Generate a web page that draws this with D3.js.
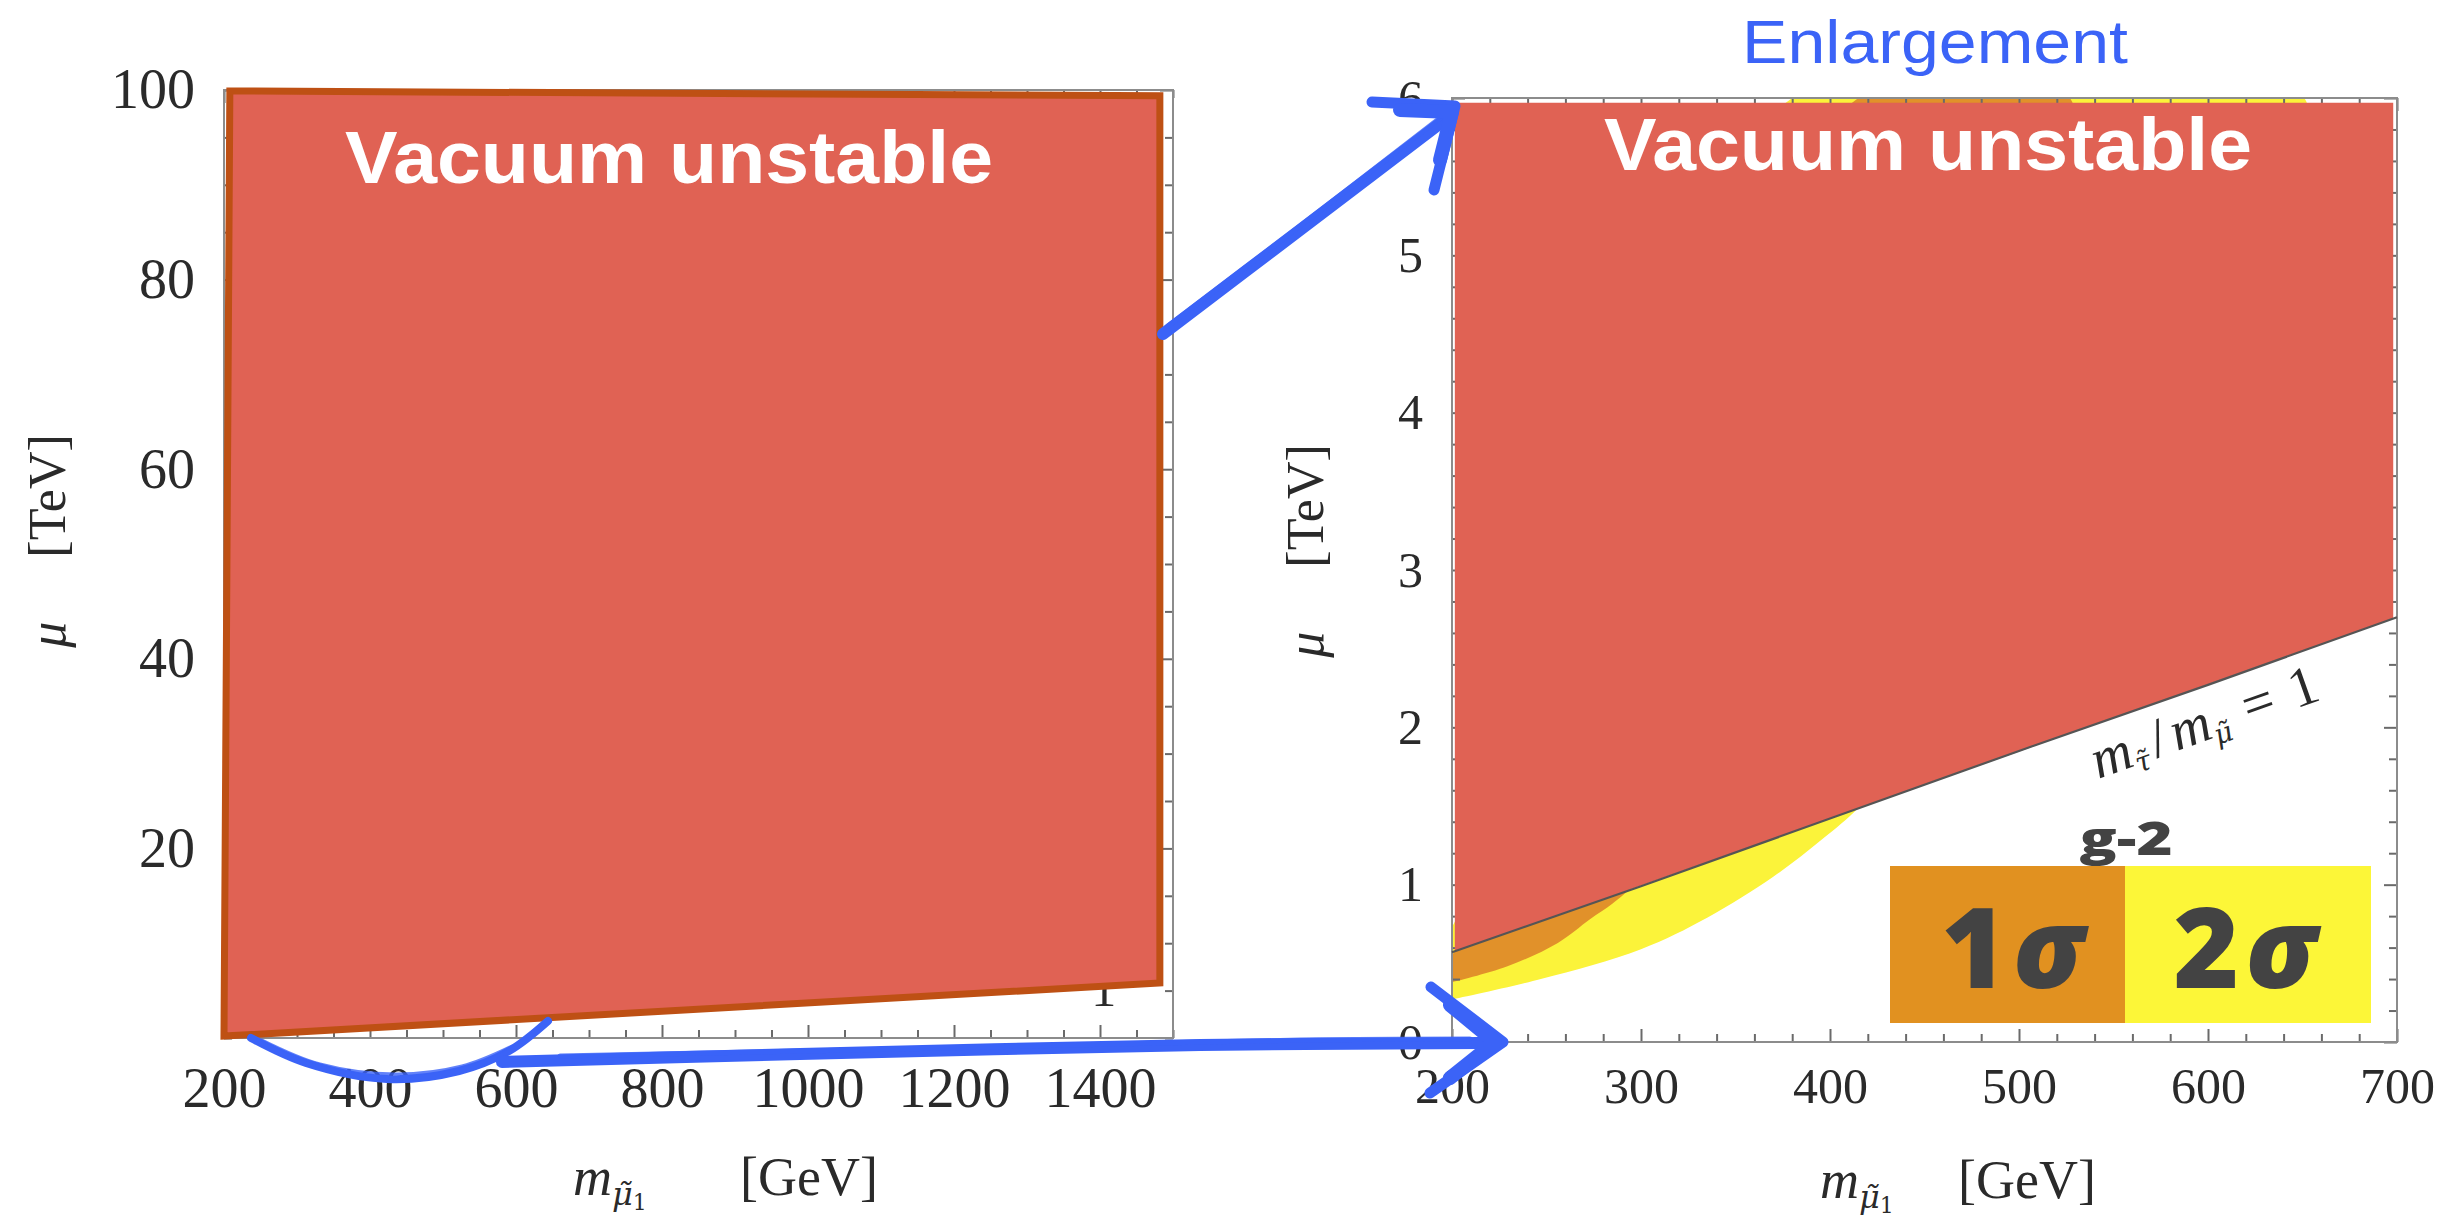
<!DOCTYPE html>
<html><head><meta charset="utf-8">
<script src="https://cdn.jsdelivr.net/npm/d3@7"></script>
<style>body{margin:0;background:#fff;} svg{display:block;background:#fff}</style>
</head><body><svg id="chart" width="2460" height="1221"></svg>
<script>
// ---------------- data ----------------
// left panel (full range)
const leftXDomain = [200, 1500];
const leftYDomain = [0, 100];
const leftXTicks = [200, 400, 600, 800, 1000, 1200, 1400];
const leftYTicks = [20, 40, 60, 80, 100];
const leftXMinorStep = 50;
const leftYMinorStep = 5;
// "Vacuum unstable" overlay of the left panel (corners, GeV / TeV)
const leftUnstableM  = [208, 1482, 1482, 200];
const leftUnstableMu = [99.9, 99.4, 5.8, 0.2];

// right panel (enlargement)
const rightXDomain = [200, 700];
const rightYDomain = [0, 6];
const rightXTicks = [200, 300, 400, 500, 600, 700];
const rightYTicks = [0, 1, 2, 3, 4, 5, 6];
const rightXMinorStep = 20;
const rightYMinorStep = 0.2;
// m_stau / m_smu = 1 line
const ratioLineM  = [200, 300, 400, 500, 600, 700];
const ratioLineMu = [0.57, 0.99, 1.42, 1.85, 2.27, 2.70];
// "Vacuum unstable" overlay of the right panel
const rightUnstableM  = [201.5, 698, 698, 201.5];
const rightUnstableMu = [5.97, 5.97, 2.69, 0.575];
// g-2 regions (lower-right edge upward, then upper-left edge downward)
const sigma2M  = [200, 247, 300, 335, 370, 396, 416, 450, 500, 560, 610, 651, 380, 320, 260, 220, 200];
const sigma2Mu = [0.27, 0.40, 0.59, 0.79, 1.05, 1.29, 1.50, 2.0, 2.8, 3.9, 4.9, 6.0, 6.0, 4.2, 2.3, 1.2, 0.73];
const sigma1M  = [200, 229, 256, 273, 285, 295, 320, 370, 430, 480, 527, 415, 350, 280, 230, 200];
const sigma1Mu = [0.38, 0.48, 0.63, 0.78, 0.88, 0.98, 1.25, 2.0, 3.2, 4.5, 6.0, 6.0, 4.0, 2.2, 1.1, 0.55];

const legendLabels = ["1σ", "2σ"];

// ---------------- styles ----------------
const C = {
  red: "#E06254", redEdge: "#BE5014", orange: "#E1912A", yellow: "#FBF33A",
  legendOrange: "#E19120", legendYellow: "#FCF638", blue: "#3B63F7",
  frame: "#8c8c8c", tick: "#6a6a6a", text: "#2a2a2a", dark: "#434343"
};
const serif = "'Liberation Serif','DejaVu Serif',serif";
const subSerif = "'DejaVu Serif','Liberation Serif',serif";
const sans = "'Liberation Sans',Arial,sans-serif";
const heavy = "'Open Sans','DejaVu Sans',sans-serif";

const svg = d3.select("#chart");
const zip = (a, b) => a.map((v, i) => [v, b[i]]);

// ---------------- scales ----------------
const xL = d3.scaleLinear(leftXDomain, [224, 1173]);
const yL = d3.scaleLinear(leftYDomain, [1038, 90]);
const xR = d3.scaleLinear(rightXDomain, [1452, 2397]);
const yR = d3.scaleLinear(rightYDomain, [1042, 98]);

function minorTicks(domain, step, majors) {
  const out = [];
  for (let v = domain[0]; v <= domain[1] + 1e-9; v += step) {
    const r = Math.round(v * 1000) / 1000;
    if (!majors.some(m => Math.abs(m - r) < 1e-6)) out.push(r);
  }
  return out;
}

function frame(g, x, y, xTicks, yTicks, xStep, yStep, fs, xLabOff, yLabPad) {
  const [x0, x1] = x.range(), [y0, y1] = y.range();
  const xMin = minorTicks(x.domain(), xStep, xTicks), yMin = minorTicks(y.domain(), yStep, yTicks);
  const styleAxis = sel => {
    sel.select(".domain").remove();
    sel.selectAll(".tick line").attr("stroke", C.tick).attr("stroke-width", 2);
  };
  const b = g.append("g").attr("transform", `translate(0,${y0})`)
    .call(d3.axisBottom(x).tickValues(xTicks).tickSize(-13).tickPadding(0).tickFormat(d3.format("d")));
  styleAxis(b);
  b.selectAll("text").attr("dy", null).attr("y", xLabOff)
    .attr("font-family", serif).attr("font-size", fs).attr("fill", C.text);
  g.append("g").attr("transform", `translate(0,${y0})`)
    .call(d3.axisBottom(x).tickValues(xMin).tickSize(-8).tickFormat("")).call(styleAxis);
  g.append("g").attr("transform", `translate(0,${y1})`)
    .call(d3.axisTop(x).tickValues(xTicks).tickSize(-13).tickFormat("")).call(styleAxis);
  g.append("g").attr("transform", `translate(0,${y1})`)
    .call(d3.axisTop(x).tickValues(xMin).tickSize(-8).tickFormat("")).call(styleAxis);
  const l = g.append("g").attr("transform", `translate(${x0},0)`)
    .call(d3.axisLeft(y).tickValues(yTicks).tickSize(-13).tickPadding(yLabPad).tickFormat(d3.format("d")));
  styleAxis(l);
  l.selectAll("text").attr("font-family", serif).attr("font-size", fs).attr("fill", C.text);
  g.append("g").attr("transform", `translate(${x0},0)`)
    .call(d3.axisLeft(y).tickValues(yMin).tickSize(-8).tickFormat("")).call(styleAxis);
  g.append("g").attr("transform", `translate(${x1},0)`)
    .call(d3.axisRight(y).tickValues(yTicks).tickSize(-13).tickFormat("")).call(styleAxis);
  g.append("g").attr("transform", `translate(${x1},0)`)
    .call(d3.axisRight(y).tickValues(yMin).tickSize(-8).tickFormat("")).call(styleAxis);
  g.append("rect").attr("x", x0).attr("y", y1).attr("width", x1 - x0).attr("height", y0 - y1)
    .attr("fill", "none").attr("stroke", C.frame).attr("stroke-width", 2);
}

// ================= RIGHT PANEL =================
const gR = svg.append("g");
svg.append("clipPath").attr("id", "clipR").append("rect")
  .attr("x", xR(200)).attr("y", yR(6)).attr("width", xR(700) - xR(200)).attr("height", yR(0) - yR(6));
const band = d3.line().x(d => xR(d[0])).y(d => yR(d[1])).curve(d3.curveCatmullRom.alpha(0.5));
const gBands = gR.append("g").attr("clip-path", "url(#clipR)");
gBands.append("path").attr("d", band(zip(sigma2M, sigma2Mu)) + "Z").attr("fill", C.yellow);
gBands.append("path").attr("d", band(zip(sigma1M, sigma1Mu)) + "Z").attr("fill", C.orange);

frame(gR, xR, yR, rightXTicks, rightYTicks, rightXMinorStep, rightYMinorStep, 50, 61, 29);

const poly = (x, y) => d3.line().x(d => x(d[0])).y(d => y(d[1]));
gR.append("path").attr("d", poly(xR, yR)(zip(rightUnstableM, rightUnstableMu)) + "Z").attr("fill", C.red);
gR.append("path").attr("d", poly(xR, yR)(zip(ratioLineM, ratioLineMu)))
  .attr("fill", "none").attr("stroke", "#555").attr("stroke-width", 2.2);

// ratio label along the line
{
  const mA = 592;
  const muA = d3.scaleLinear(ratioLineM, ratioLineMu)(mA);
  const ang = Math.atan2(yR(ratioLineMu[5]) - yR(ratioLineMu[0]), xR(ratioLineM[5]) - xR(ratioLineM[0])) * 180 / Math.PI;
  const t = gR.append("text")
    .attr("transform", `translate(${xR(mA)},${yR(muA)}) rotate(${ang})`)
    .attr("y", 52).attr("text-anchor", "middle")
    .attr("font-family", serif).attr("font-size", 56).attr("fill", C.text);
  t.append("tspan").attr("font-style", "italic").text("m");
  t.append("tspan").attr("font-family", subSerif).attr("font-style", "italic").attr("font-size", 28).attr("dy", 8).text("τ\u0303");
  t.append("tspan").attr("dy", -8).attr("dx", 6).text("/");
  t.append("tspan").attr("font-style", "italic").attr("dx", 6).text("m");
  t.append("tspan").attr("font-family", subSerif).attr("font-style", "italic").attr("font-size", 28).attr("dy", 8).text("μ\u0303");
  t.append("tspan").attr("dy", -8).attr("dx", 18).text("=");
  t.append("tspan").attr("dx", 18).text("1");
}

// ================= LEFT PANEL =================
const gL = svg.append("g");
frame(gL, xL, yL, leftXTicks, leftYTicks, leftXMinorStep, leftYMinorStep, 56, 69, 29);
gL.append("text").attr("x", xL(1405)).attr("y", 1006).attr("text-anchor", "middle")
  .attr("font-family", serif).attr("font-size", 50).attr("fill", C.text).text("1");
gL.append("path").attr("d", poly(xL, yL)(zip(leftUnstableM, leftUnstableMu)) + "Z")
  .attr("fill", C.red).attr("stroke", C.redEdge).attr("stroke-width", 7).attr("stroke-linejoin", "miter");

// ================= TEXTS =================
function vlabel(x, yc, fs) {
  const t = svg.append("text").attr("transform", `translate(${x},${yc}) rotate(-90)`)
    .attr("text-anchor", "middle").attr("font-family", serif).attr("font-size", fs).attr("fill", C.text);
  t.append("tspan").attr("font-style", "italic").text("μ");
  t.append("tspan").attr("dx", 64).text("[TeV]");
}
vlabel(65, 541, 52);
vlabel(1323, 551, 52);

function xlabel(xm, xg, yb, fs) {
  const t = svg.append("text").attr("x", xm).attr("y", yb)
    .attr("font-family", serif).attr("font-size", fs).attr("fill", C.text);
  t.append("tspan").attr("font-style", "italic").text("m");
  t.append("tspan").attr("font-family", subSerif).attr("font-style", "italic").attr("font-size", 32).attr("dy", 10).text("μ\u0303");
  t.append("tspan").attr("font-family", subSerif).attr("font-size", 22).attr("dy", 5).text("1");
  svg.append("text").attr("x", xg).attr("y", yb).attr("font-family", serif)
    .attr("font-size", fs).attr("fill", C.text).text("[GeV]");
}
xlabel(573, 740, 1195, 54);
xlabel(1820, 1958, 1198, 54);

svg.append("text").attr("x", 669).attr("y", 183).attr("text-anchor", "middle")
  .attr("font-family", sans).attr("font-weight", "bold").attr("font-size", 75)
  .attr("textLength", 648).attr("lengthAdjust", "spacingAndGlyphs").attr("fill", "#fff").text("Vacuum unstable");
svg.append("text").attr("x", 1928).attr("y", 170).attr("text-anchor", "middle")
  .attr("font-family", sans).attr("font-weight", "bold").attr("font-size", 75)
  .attr("textLength", 648).attr("lengthAdjust", "spacingAndGlyphs").attr("fill", "#fff").text("Vacuum unstable");
svg.append("text").attr("x", 1935).attr("y", 63).attr("text-anchor", "middle")
  .attr("font-family", sans).attr("font-size", 62)
  .attr("textLength", 386).attr("lengthAdjust", "spacingAndGlyphs").attr("fill", C.blue).text("Enlargement");

// ================= LEGEND =================
const lg = svg.append("g");
const boxes = [{x: 1890, w: 235, c: C.legendOrange}, {x: 2125, w: 246, c: C.legendYellow}];
boxes.forEach((b, i) => {
  lg.append("rect").attr("x", b.x).attr("y", 866).attr("width", b.w).attr("height", 157).attr("fill", b.c);
  const t = lg.append("text").attr("x", b.x + b.w / 2 + (i === 0 ? 8 : 0)).attr("y", 988)
    .attr("text-anchor", "middle").attr("font-family", heavy)
    .attr("font-weight", 800).attr("font-size", 112).attr("letter-spacing", 6).attr("fill", C.dark);
  t.append("tspan").text(legendLabels[i][0]);
  t.append("tspan").attr("font-style", "italic").text(legendLabels[i].slice(1));
});
lg.append("text").attr("x", 2126).attr("y", 855).attr("text-anchor", "middle")
  .attr("font-family", heavy).attr("font-weight", 800).attr("font-size", 46)
  .attr("textLength", 93).attr("lengthAdjust", "spacingAndGlyphs").attr("fill", C.dark).text("g-2");

// ================= BLUE ANNOTATION ARROWS =================
const ann = svg.append("g").attr("fill", "none").attr("stroke", C.blue)
  .attr("stroke-linecap", "round").attr("stroke-linejoin", "round");
const smooth = d3.line().curve(d3.curveCatmullRom.alpha(0.5));
ann.append("path").attr("d", smooth([[1163, 334], [1300, 230], [1442, 122]])).attr("stroke-width", 12);
ann.append("path").attr("d", smooth([[1168, 326], [1300, 226], [1440, 118]])).attr("stroke-width", 5).attr("opacity", 0.8);
ann.append("path").attr("d", d3.line()([[1372, 102], [1455, 106], [1434, 190]])).attr("stroke-width", 11);
ann.append("path").attr("d", d3.line()([[1400, 110], [1452, 112], [1440, 160]])).attr("stroke-width", 14);
ann.append("path").attr("d", smooth([[251, 1038], [306, 1063], [387, 1079], [459, 1071], [509, 1051], [548, 1021]])).attr("stroke-width", 8);
ann.append("path").attr("d", smooth([[262, 1040], [320, 1064], [395, 1074], [462, 1066], [512, 1046]])).attr("stroke-width", 3).attr("opacity", 0.8);
ann.append("path").attr("d", smooth([[502, 1062], [800, 1054], [1200, 1045], [1480, 1043]])).attr("stroke-width", 12);
ann.append("path").attr("d", smooth([[560, 1056], [900, 1049], [1300, 1040], [1470, 1039]])).attr("stroke-width", 5).attr("opacity", 0.8);
ann.append("path").attr("d", d3.line()([[1431, 987], [1503, 1042], [1430, 1093]])).attr("stroke-width", 11);
ann.append("path").attr("d", d3.line()([[1450, 1005], [1495, 1042], [1450, 1078]])).attr("stroke-width", 14);
</script>
</body></html>
